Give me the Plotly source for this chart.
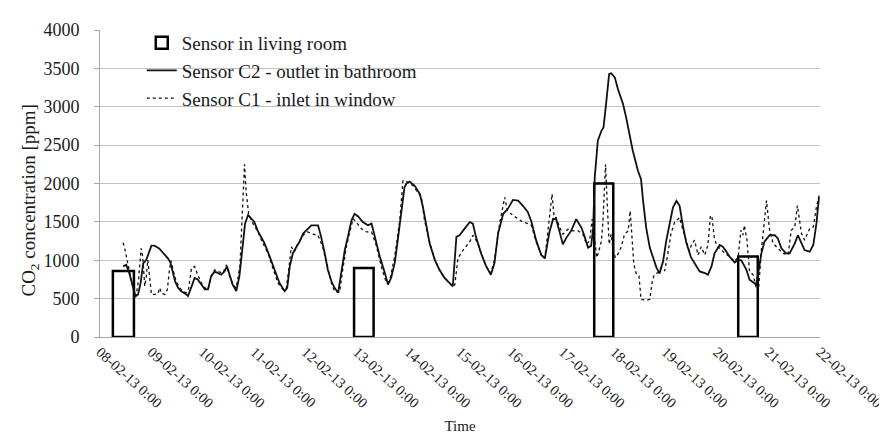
import pandas as pd
import plotly.graph_objects as go

# ---- data (time in days after 08-02-2013 00:00, CO2 in ppm) ----
c2_days = [0.45, 0.51, 0.57, 0.64, 0.69, 0.74, 0.79, 0.84, 0.90, 1.00, 1.06, 1.15, 1.24, 1.32,
           1.37, 1.40, 1.46, 1.52, 1.58, 1.68, 1.71, 1.77, 1.84, 1.90, 1.97, 2.04, 2.10, 2.16,
           2.23, 2.29, 2.36, 2.42, 2.47, 2.52, 2.58, 2.65, 2.71, 2.78, 2.82, 2.88, 2.94, 3.00,
           3.07, 3.14, 3.20, 3.30, 3.40, 3.49, 3.59, 3.64, 3.69, 3.75, 3.82, 3.88, 3.95, 4.04,
           4.11, 4.24, 4.30, 4.37, 4.43, 4.50, 4.56, 4.63, 4.69, 4.76, 4.82, 4.89, 4.95, 5.02,
           5.11, 5.21, 5.28, 5.34, 5.44, 5.53, 5.60, 5.66, 5.73, 5.79, 5.86, 5.92, 5.96, 6.02,
           6.12, 6.22, 6.28, 6.35, 6.41, 6.51, 6.60, 6.70, 6.80, 6.86, 6.93, 6.99, 7.09, 7.19,
           7.25, 7.31, 7.41, 7.51, 7.60, 7.67, 7.74, 7.84, 7.93, 8.03, 8.13, 8.22, 8.32, 8.39,
           8.48, 8.58, 8.65, 8.74, 8.81, 8.87, 8.94, 9.00, 9.07, 9.16, 9.26, 9.36, 9.42, 9.49,
           9.55, 9.59, 9.62, 9.65, 9.68, 9.75, 9.79, 9.84, 9.90, 9.94, 10.01, 10.07, 10.17,
           10.23, 10.30, 10.36, 10.46, 10.52, 10.56, 10.62, 10.69, 10.75, 10.82, 10.88, 10.95,
           11.01, 11.08, 11.14, 11.21, 11.27, 11.34, 11.40, 11.49, 11.56, 11.66, 11.76, 11.82,
           11.89, 11.95, 12.05, 12.11, 12.18, 12.24, 12.34, 12.41, 12.47, 12.50, 12.57, 12.63,
           12.70, 12.76, 12.81, 12.86, 12.92, 13.02, 13.12, 13.18, 13.25, 13.34, 13.41, 13.51,
           13.57, 13.64, 13.70, 13.80, 13.87, 13.93, 13.98]
c2_ppm = [920, 940, 830, 660, 530, 555, 705, 960, 1005, 1190, 1190, 1155, 1090, 1025,
          970, 875, 725, 640, 597, 554, 533, 640, 770, 750, 683, 620, 620, 790,
          855, 833, 811, 855, 920, 811, 683, 597, 790, 1220, 1477, 1590, 1541, 1498,
          1380, 1290, 1219, 1048, 855, 704, 597, 640, 920, 1090, 1176, 1241, 1348, 1412,
          1455, 1455, 1305, 1090, 876, 726, 640, 576, 833, 1133, 1305, 1520, 1605, 1571,
          1498, 1455, 1477, 1305, 1048, 855, 683, 769, 962, 1262, 1605, 1949, 2000, 2026,
          1970, 1863, 1691, 1434, 1219, 1005, 876, 769, 704, 661, 1305, 1326, 1412, 1498,
          1477, 1305, 1090, 919, 811, 962, 1348, 1605, 1670, 1786, 1777, 1713, 1627, 1498,
          1262, 1069, 1026, 1369, 1540, 1535, 1360, 1208, 1295, 1382, 1535, 1426, 1317, 1165,
          1187, 1426, 2078, 2383, 2557, 2687, 2731, 3035, 3427, 3436, 3383, 3231, 3035,
          2861, 2644, 2426, 2165, 2057, 1774, 1426, 1165, 1034, 904, 826, 991,
          1252, 1513, 1687, 1774, 1709, 1426, 1230, 1040, 962, 855, 833, 811,
          919, 1090, 1198, 1176, 1112, 1048, 970, 1005, 1000, 960, 876, 747,
          713, 683, 876, 1090, 1241, 1326, 1326, 1284, 1155, 1090, 1090, 1219,
          1326, 1219, 1133, 1112, 1198, 1477, 1820]

c1_days = [0.45, 0.48, 0.54, 0.60, 0.66, 0.70, 0.75, 0.80, 0.83, 0.87, 0.90, 0.93, 0.96, 1.00,
           1.07, 1.13, 1.16, 1.20, 1.26, 1.31, 1.35, 1.38, 1.42, 1.48, 1.55, 1.61, 1.68, 1.72,
           1.78, 1.84, 1.90, 1.97, 2.04, 2.10, 2.16, 2.23, 2.29, 2.39, 2.46, 2.52, 2.58, 2.65,
           2.72, 2.76, 2.81, 2.84, 2.89, 2.94, 3.01, 3.07, 3.17, 3.27, 3.36, 3.46, 3.56, 3.62,
           3.67, 3.72, 3.78, 3.85, 3.95, 4.04, 4.14, 4.24, 4.33, 4.43, 4.50, 4.56, 4.66, 4.72,
           4.79, 4.85, 4.92, 4.98, 5.08, 5.18, 5.28, 5.37, 5.47, 5.57, 5.63, 5.73, 5.83, 5.89,
           5.91, 5.99, 6.09, 6.18, 6.25, 6.31, 6.41, 6.51, 6.60, 6.70, 6.80, 6.86, 6.90, 6.96,
           7.06, 7.19, 7.25, 7.35, 7.41, 7.51, 7.60, 7.67, 7.77, 7.87, 7.92, 8.03, 8.13, 8.22,
           8.32, 8.39, 8.48, 8.58, 8.65, 8.71, 8.76, 8.79, 8.83, 8.87, 8.94, 9.00, 9.10, 9.20,
           9.30, 9.39, 9.46, 9.52, 9.57, 9.62, 9.66, 9.70, 9.75, 9.78, 9.81, 9.83, 9.86, 9.90,
           9.94, 9.97, 10.02, 10.07, 10.13, 10.20, 10.27, 10.31, 10.34, 10.38, 10.43, 10.48,
           10.52, 10.62, 10.69, 10.74, 10.78, 10.85, 10.91, 10.98, 11.04, 11.10, 11.17, 11.27,
           11.34, 11.40, 11.46, 11.50, 11.56, 11.63, 11.69, 11.76, 11.82, 11.87, 11.90, 11.95,
           12.02, 12.15, 12.24, 12.34, 12.41, 12.46, 12.50, 12.53, 12.58, 12.63, 12.70, 12.76,
           12.81, 12.86, 12.91, 12.96, 13.02, 13.09, 13.18, 13.28, 13.38, 13.44, 13.51, 13.56,
           13.64, 13.70, 13.80, 13.87, 13.93, 13.99]
c1_ppm = [1228, 1155, 962, 747, 576, 533, 747, 1155, 1048, 661, 790, 1005, 833, 555,
          555, 567, 640, 567, 555, 619, 876, 996, 876, 726, 640, 597, 576, 619,
          898, 919, 811, 704, 640, 619, 790, 876, 855, 833, 940, 790, 683, 640,
          919, 1477, 2249, 1906, 1605, 1520, 1434, 1369, 1219, 1090, 898, 704, 619, 619,
          876, 1176, 1112, 1219, 1326, 1369, 1339, 1326, 1176, 919, 704, 597, 584, 876,
          1176, 1348, 1541, 1498, 1412, 1369, 1369, 1198, 919, 704, 726, 1048, 1520, 2034,
          2043, 2013, 1970, 1884, 1820, 1520, 1241, 1005, 876, 769, 704, 661, 683, 1026,
          1133, 1241, 1326, 1219, 1090, 919, 833, 1005, 1477, 1820, 1648, 1584, 1541, 1498,
          1477, 1455, 1241, 1069, 1026, 1391, 1734, 1863, 1562, 1556, 1426, 1339, 1404, 1382,
          1382, 1339, 1208, 1252, 1535, 1252, 1034, 1121, 1252, 1513, 1991, 2252, 1774, 1208,
          1339, 1165, 1034, 1078, 1165, 1339, 1382, 1643, 1339, 947, 817, 795,
          491, 478, 491, 730, 817, 839, 904, 860, 1078, 1339, 1491, 1556,
          1382, 1252, 1120, 1198, 1262, 1069, 1176, 1069, 1198, 1584, 1562, 1262,
          1176, 1090, 1048, 983, 1048, 1391, 1326, 1455, 1262, 855, 811, 640,
          661, 1133, 1434, 1777, 1391, 1219, 1155, 1090, 1069, 1391, 1434, 1713,
          1348, 1262, 1412, 1434, 1691, 1863]

room_start_days = [0.25, 4.94, 9.61, 12.41]
room_end_days = [0.66, 5.32, 9.98, 12.79]
room_ppm = [860, 900, 2000, 1050]

tick_days = list(range(0, 15))
tick_labels = ["08-02-13 0:00", "09-02-13 0:00", "10-02-13 0:00", "11-02-13 0:00",
               "12-02-13 0:00", "13-02-13 0:00", "14-02-13 0:00", "15-02-13 0:00",
               "16-02-13 0:00", "17-02-13 0:00", "18-02-13 0:00", "19-02-13 0:00",
               "20-02-13 0:00", "21-02-13 0:00", "22-02-13 0:00"]

# ---- build ----
t0 = pd.Timestamp("2013-02-08 00:00")
to_time = lambda d: [t0 + pd.Timedelta(days=v) for v in d]

room_mid = [(a + b) / 2 for a, b in zip(room_start_days, room_end_days)]
room_width_ms = [(b - a) * 86400000 for a, b in zip(room_start_days, room_end_days)]

FONT = "'Liberation Serif', 'Times New Roman', serif"

fig = go.Figure()
fig.add_trace(go.Bar(
    x=to_time(room_mid), y=room_ppm, width=room_width_ms,
    marker=dict(color="rgba(0,0,0,0)", line=dict(color="black", width=2.5)),
    name="Sensor in living room", legendgroup="a"))
fig.add_trace(go.Scatter(
    x=to_time(c2_days), y=c2_ppm, mode="lines",
    line=dict(color="#111111", width=1.8),
    name="Sensor C2 - outlet in bathroom", legendgroup="b"))
fig.add_trace(go.Scatter(
    x=to_time(c1_days), y=c1_ppm, mode="lines",
    line=dict(color="#111111", width=1.3, dash="dot"),
    name="Sensor C1 - inlet in window", legendgroup="c"))

fig.update_layout(
    width=887, height=443,
    margin=dict(l=92, r=75, t=22, b=114, autoexpand=False),
    paper_bgcolor="white", plot_bgcolor="white",
    font=dict(family=FONT, color="#1a1a1a", size=16),
    showlegend=True,
    legend=dict(x=0.058, y=1.02, xanchor="left", yanchor="top",
                bgcolor="rgba(0,0,0,0)", font=dict(size=19, family=FONT),
                tracegroupgap=7, traceorder="normal"),
    xaxis=dict(
        range=[t0, t0 + pd.Timedelta(days=14)],
        tickvals=to_time(tick_days), ticktext=tick_labels,
        tickangle=42, showgrid=False, zeroline=False, automargin=False,
        ticklabeloverflow="allow",
        showline=True, linecolor="#a6a6a6", linewidth=1,
        ticks="", tickfont=dict(size=14.5, family=FONT),
        title=dict(text="Time", font=dict(size=15, family=FONT), standoff=10),
    ),
    yaxis=dict(
        range=[0, 4000], dtick=500, tick0=0, automargin=False,
        showgrid=True, gridcolor="#c3c3c3", gridwidth=1, zeroline=False,
        showline=True, linecolor="#a6a6a6", linewidth=1,
        ticks="outside", ticklen=5, tickcolor="#a6a6a6",
        ticklabelstandoff=11,
        tickfont=dict(size=18, family=FONT),
    ),
    annotations=[dict(
        text="CO<sub>2</sub> concentration [ppm]", textangle=-90,
        xref="paper", yref="paper", x=-0.097, y=0.445,
        xanchor="center", yanchor="middle", showarrow=False,
        font=dict(size=19, family=FONT, color="#1a1a1a"))],
)

fig.write_html("out.html")
